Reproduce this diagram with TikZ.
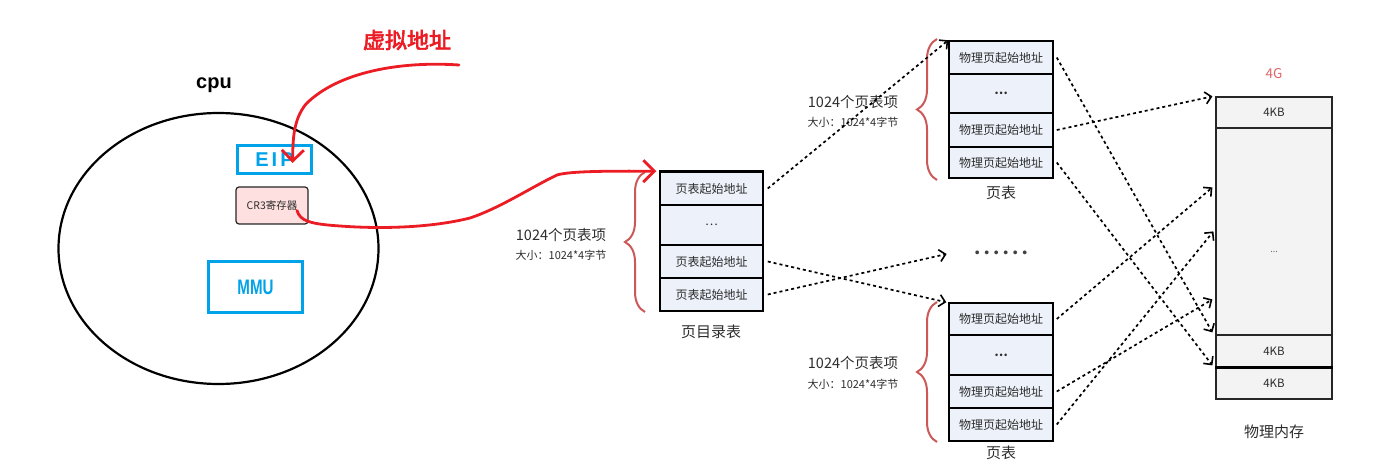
\documentclass[tikz,border=0pt]{standalone}
\usepackage{fontspec}
\usepackage{graphicx}
\setmainfont{Liberation Sans}
\newfontfamily\cjk{Noto Sans CJK SC}
\newfontfamily\cjkb[FakeBold=3]{Noto Sans CJK SC}
\usetikzlibrary{arrows.meta,decorations.pathreplacing,calc,shapes.geometric}
\definecolor{eipblue}{RGB}{0,162,232}
\definecolor{redline}{RGB}{236,28,36}
\definecolor{bracered}{RGB}{204,88,88}
\definecolor{rowfill}{RGB}{237,241,250}
\definecolor{memfill}{RGB}{243,243,243}
\definecolor{crfill}{RGB}{255,224,224}
\definecolor{textgray}{RGB}{45,45,45}
\definecolor{gcolor}{RGB}{222,100,100}
\newcommand{\dotgap}{\hspace{4.6pt}}
\tikzset{
  row/.style={draw=black, line width=1.5pt, fill=rowfill, minimum width=103pt, inner sep=0pt,
    font=\cjk\fontsize{12}{12}\selectfont, text=textgray},
  memrow/.style={draw=black!85, line width=1.2pt, fill=memfill, minimum width=116pt, inner sep=0pt,
    font=\cjk\fontsize{11.5}{12}\selectfont, text=textgray},
  lbl/.style={font=\cjk\fontsize{15}{15}\selectfont, text=textgray, inner sep=0pt},
  cntlbl/.style={font=\cjk\fontsize{14.5}{15}\selectfont, text=textgray, inner sep=0pt},
  sizelbl/.style={font=\cjk\fontsize{11}{12}\selectfont, text=textgray, inner sep=0pt},
  bluebox/.style={draw=eipblue, line width=3pt, text=eipblue, inner sep=0pt},
  dasharr/.style={line width=1.7pt, dash pattern=on 3pt off 3pt, -{Straight Barb[length=6pt,width=12pt,line width=1.6pt]}},
  redarr/.style={draw=redline, line width=2.8pt, line cap=round, -{Straight Barb[length=11pt,width=22pt,line width=2.8pt]}},
  rbrace/.style={draw=bracered, line width=2pt, decorate, decoration={brace, amplitude=20pt, aspect=0.5}},
}
\begin{document}
\begin{tikzpicture}[x=1pt,y=-1pt]
\useasboundingbox (0,0) rectangle (1382,465);

% CPU
\node[draw, ellipse, line width=2.2pt, minimum width=320pt, minimum height=271pt, inner sep=0pt] (cpu) at (218.5,248.5) {};
\node[font=\bfseries\fontsize{20}{20}\selectfont, inner sep=0pt] (cpulbl) at (214,85) {cpu};
\node[bluebox, minimum width=74pt, minimum height=28pt, font=\bfseries\fontsize{20}{20}\selectfont] (eip) at (274.5,160) {E\hspace{3pt}I\hspace{3pt}P};
\node[draw=black!85, line width=1.2pt, rounded corners=3pt, fill=crfill, minimum width=72pt, minimum height=37pt, inner sep=0pt, text=textgray, font=\cjk\fontsize{10.5}{11}\selectfont] (cr3) at (272,205.5) {CR3寄存器};
\node[bluebox, minimum width=94pt, minimum height=50pt, font=\bfseries\fontsize{21}{21}\selectfont] (mmu) at (255.5,287) {\scalebox{0.72}[1]{MMU}};

\node[text=redline, font=\cjkb\fontsize{22}{22}\selectfont, inner sep=0pt] (va) at (407,40) {虚拟地址};

% page directory
\node[row, minimum height=33pt] (d1) at (711.5,188.5) {页表起始地址};
\node[row, minimum height=40pt] (d2) at (711.5,225) {…};
\node[row, minimum height=33pt] (d3) at (711.5,261.5) {页表起始地址};
\node[row, minimum height=33pt] (d4) at (711.5,294.5) {页表起始地址};
\draw[line width=2.5pt] (d1.north west) -- (d1.north east);
\node[lbl] (dirlbl) at (711,332) {页目录表};
\draw[rbrace] (645,312) -- (645,172);
\node[cntlbl] (dc) at (561,235) {1024个页表项};
\node[sizelbl] (ds) at (561,255) {大小：1024*4字节};

% top page table
\node[row, minimum width=104pt, minimum height=33pt] (t1) at (1001,57.5) {物理页起始地址};
\node[row, minimum width=104pt, minimum height=39pt] (t2) at (1001,93.5) {\textbf{…}};
\node[row, minimum width=104pt, minimum height=34pt] (t3) at (1001,130) {物理页起始地址};
\node[row, minimum width=104pt, minimum height=31pt] (t4) at (1001,162.5) {物理页起始地址};
\node[lbl] (t1lbl) at (1001,193) {页表};
\draw[rbrace] (937,180) -- (937,39);
\node[cntlbl] (tc) at (853,102) {1024个页表项};
\node[sizelbl] (ts) at (853,122) {大小：1024*4字节};

% bottom page table
\node[row, minimum width=104pt, minimum height=32pt] (b1) at (1001,319) {物理页起始地址};
\node[row, minimum width=104pt, minimum height=40pt] (b2) at (1001,355) {\textbf{…}};
\node[row, minimum width=104pt, minimum height=33pt] (b3) at (1001,391.5) {物理页起始地址};
\node[row, minimum width=104pt, minimum height=33pt] (b4) at (1001,424.5) {物理页起始地址};
\node[lbl] (t2lbl) at (1001,453) {页表};
\draw[rbrace] (937,442) -- (937,302);
\node[cntlbl] (bc) at (853,363) {1024个页表项};
\node[sizelbl] (bs) at (853,384) {大小：1024*4字节};

\node[font=\fontsize{14}{14}\selectfont, text=black!75, inner sep=0pt] (dots) at (1001,254) {•\dotgap•\dotgap•\dotgap•\dotgap•\dotgap•};

% physical memory
\node[memrow, minimum height=31pt] (m1) at (1274,112.5) {4KB};
\node[memrow, minimum height=207pt] (m2) at (1274,231.5) {};
\node[memrow, minimum height=32pt] (m3) at (1274,351) {4KB};
\node[memrow, minimum height=32pt] (m4) at (1274,383) {4KB};
\draw[line width=3pt] (m3.south west) -- (m3.south east);
\node[font=\cjk\fontsize{9}{10}\selectfont, text=black!60, inner sep=0pt] (mdots) at (1274,252) {...};
\node[font=\cjk\fontsize{13.5}{14}\selectfont, text=gcolor, inner sep=0pt] (g4) at (1274,74) {4G};
\node[lbl] (memlbl) at (1274,432) {物理内存};

% dashed arrows
\draw[dasharr] ([xshift=4pt]d1.east) -- (t1.north west);
\draw[dasharr] ([xshift=4pt]d3.east) -- ([xshift=-2pt]b1.north west);
\draw[dasharr] ([xshift=4pt]d4.east) -- ($(dots.west)+(-28,0)$);
\draw[dasharr] ([xshift=3pt]t1.east) -- ($(m3.north west)+(-3,-2)$);
\draw[dasharr] ([xshift=3pt]t3.east) -- ($(m1.north west)+(-3,0)$);
\draw[dasharr] ([xshift=3pt]t4.east) -- ($(m4.north west)+(-3,-1)$);
\draw[dasharr] ([xshift=3pt]b1.east) -- ($(m2.north west)+(-3,60)$);
\draw[dasharr] ([xshift=3pt]b3.east) -- ($(m2.north west)+(-3,172)$);
\draw[dasharr] ([xshift=3pt]b4.east) -- ($(m2.north west)+(-2,104)$);

% red arrows
\coordinate (vstart) at (459,65);
\draw[redarr] (vstart) .. controls (400,61) and (338,72) .. (306,104) .. controls (293,120) and (293,140) .. ($(eip.center)+(18,3)$);
\draw[redarr] ($(cr3.center)+(25,5)$) .. controls (300,221) and (310,224) .. (340,226) .. controls (380,229) and (430,228) .. (470,218) .. controls (500,208) and (530,188) .. (557,175) .. controls (570,171) and (610,171) .. ([xshift=-3pt]d1.north west);
\end{tikzpicture}
\end{document}
